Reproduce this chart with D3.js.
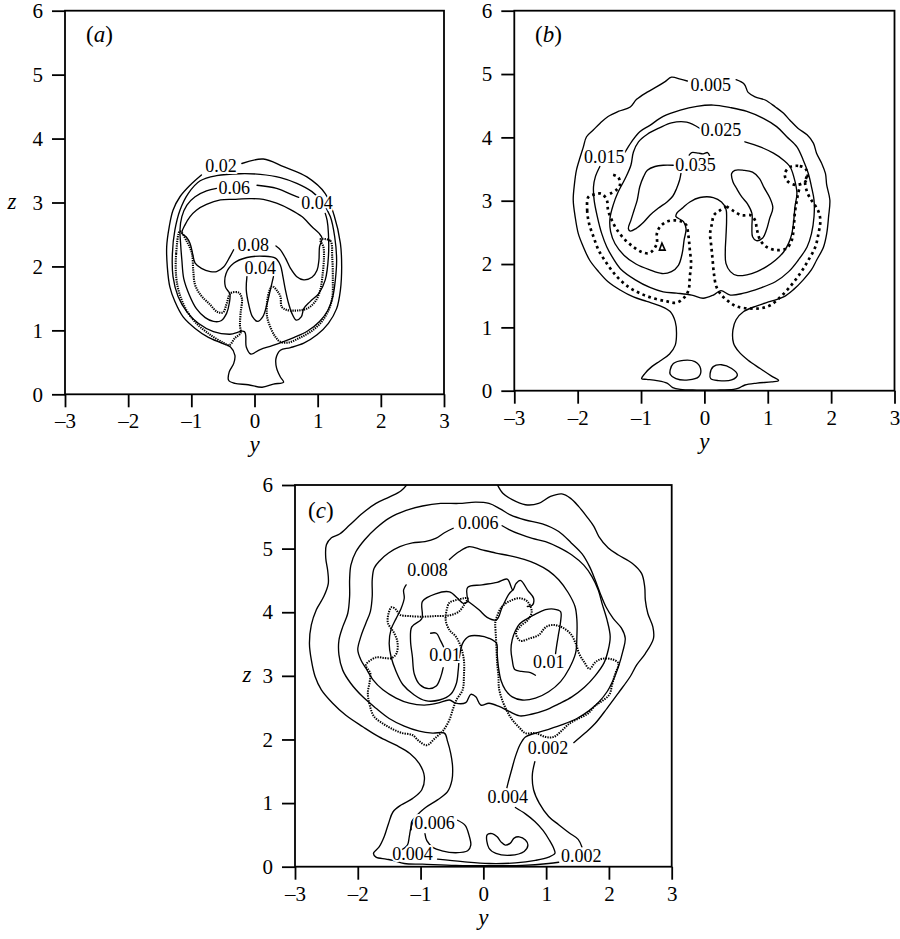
<!DOCTYPE html>
<html><head><meta charset="utf-8">
<script src="https://cdn.jsdelivr.net/npm/d3@7"></script>
<style>
body{margin:0;background:#fff}
svg{display:block}
svg text{font-family:'Liberation Serif','DejaVu Serif',serif !important;fill:#000}
</style>
</head><body>
<svg id="chart" width="900" height="939" style="font-family:'Liberation Serif','DejaVu Serif',serif"></svg>
<script>
// ---------- axis ticks ----------
const yTicks = [-3, -2, -1, 0, 1, 2, 3];
const zTicks = [0, 1, 2, 3, 4, 5, 6];

// ---------- panel (a) contours, [y, z] ----------
const a_c002 = [[-0.20,3.61],[0.14,3.68],[0.46,3.56],[0.83,3.40],[1.12,3.14],[1.26,2.80],[1.36,2.36],[1.38,1.99],[1.36,1.63],[1.30,1.34],[1.17,1.11],[0.99,0.93],[0.78,0.80],[0.57,0.73],[0.41,0.69],[0.34,0.56],[0.35,0.41],[0.41,0.27],[0.46,0.19],[0.30,0.16],[0.12,0.11],[-0.10,0.15],[-0.31,0.17],[-0.41,0.22],[-0.40,0.35],[-0.33,0.48],[-0.31,0.61],[-0.38,0.74],[-0.52,0.80],[-0.73,0.89],[-0.94,1.03],[-1.13,1.21],[-1.26,1.45],[-1.34,1.68],[-1.38,1.99],[-1.39,2.31],[-1.35,2.62],[-1.29,2.88],[-1.18,3.09],[-1.02,3.27],[-0.84,3.43]];
const a_c004 = [[-0.86,3.34],[-0.60,3.42],[-0.23,3.45],[0.09,3.44],[0.41,3.39],[0.67,3.30],[0.91,3.17],[1.07,3.01],[1.20,2.78],[1.27,2.46],[1.30,2.10],[1.28,1.79],[1.24,1.53],[1.16,1.31],[1.03,1.14],[0.84,0.99],[0.63,0.89],[0.45,0.82],[0.28,0.76],[0.09,0.70],[-0.06,0.63],[-0.13,0.74],[-0.16,0.98],[-0.39,0.94],[-0.65,0.98],[-0.89,1.11],[-1.07,1.29],[-1.21,1.53],[-1.29,1.84],[-1.30,2.20],[-1.26,2.57],[-1.18,2.88],[-1.05,3.14]];
const a_c006top = [[0.04,3.27],[0.35,3.22],[0.62,3.11],[0.70,3.08]];
const a_c006 = [[1.12,2.83],[1.15,2.72],[1.17,2.52],[1.17,2.15],[1.12,1.79],[1.02,1.58],[0.88,1.45],[0.78,1.34],[0.74,1.21],[0.66,1.16],[0.59,1.27],[0.54,1.42],[0.49,1.63],[0.45,1.84],[0.41,2.02],[0.33,2.13],[0.14,2.16],[-0.12,2.14],[-0.33,2.05],[-0.45,1.89],[-0.46,1.68],[-0.39,1.57],[-0.40,1.42],[-0.44,1.27],[-0.53,1.15],[-0.65,1.14],[-0.78,1.20],[-0.92,1.34],[-1.03,1.55],[-1.12,1.81],[-1.15,2.10],[-1.17,2.36],[-1.18,2.57],[-1.15,2.78],[-1.07,2.96],[-0.94,3.09],[-0.76,3.18],[-0.60,3.22]];
const a_c008 = [[-0.33,2.26],[-0.39,2.15],[-0.49,1.99],[-0.60,1.92],[-0.70,1.92],[-0.84,1.97],[-0.94,2.05],[-0.98,2.20],[-1.02,2.36],[-1.08,2.46],[-1.15,2.52],[-1.10,2.65],[-1.02,2.78],[-0.92,2.88],[-0.76,2.97],[-0.54,3.04],[-0.33,3.05],[-0.07,3.06],[0.14,3.05],[0.35,2.99],[0.57,2.89],[0.75,2.78],[0.91,2.62],[1.02,2.52],[1.07,2.44],[1.03,2.31],[1.02,2.10],[0.99,1.94],[0.91,1.83],[0.78,1.79],[0.67,1.84],[0.57,1.97],[0.49,2.13],[0.41,2.26],[0.34,2.32]];
const a_c004in = [[-0.12,1.84],[-0.13,1.63],[-0.09,1.40],[-0.03,1.21],[0.05,1.14],[0.13,1.21],[0.20,1.42],[0.25,1.63],[0.30,1.84]];
const a_dotL = [[-1.18,2.55],[-1.24,2.20],[-1.24,1.84],[-1.19,1.58],[-1.08,1.32],[-0.92,1.11],[-0.70,0.93],[-0.50,0.81],[-0.40,0.77],[-0.31,0.88],[-0.22,0.96],[-0.23,1.08],[-0.22,1.27],[-0.20,1.50],[-0.25,1.59],[-0.38,1.58],[-0.44,1.42],[-0.50,1.28],[-0.59,1.29],[-0.71,1.41],[-0.85,1.55],[-0.94,1.71],[-0.97,1.94],[-0.99,2.20],[-1.07,2.39]];
const a_dotR = [[1.04,2.42],[1.20,2.40],[1.23,2.15],[1.24,1.79],[1.23,1.50],[1.16,1.29],[1.05,1.12],[0.89,0.98],[0.71,0.88],[0.54,0.81],[0.41,0.82],[0.33,0.90],[0.26,1.03],[0.20,1.21],[0.20,1.45],[0.24,1.63],[0.28,1.69],[0.35,1.63],[0.41,1.53],[0.43,1.37],[0.51,1.32],[0.67,1.31],[0.83,1.34],[0.96,1.45],[1.04,1.63],[1.08,1.89],[1.10,2.15],[1.09,2.31]];
const a_labels = [["0.02",-0.53,3.57],["0.06",-0.32,3.23],["0.04",0.99,2.99],["0.08",-0.02,2.34],["0.04",0.09,1.98]];

// ---------- panel (b) contours ----------
const b_c0005 = [[0.50,4.91],[0.63,4.84],[0.69,4.71],[0.80,4.64],[0.96,4.59],[1.12,4.48],[1.25,4.38],[1.35,4.27],[1.48,4.14],[1.62,4.04],[1.72,3.91],[1.77,3.75],[1.85,3.59],[1.91,3.43],[1.93,3.25],[1.98,3.01],[1.96,2.75],[1.93,2.48],[1.88,2.27],[1.77,2.06],[1.69,1.91],[1.56,1.75],[1.41,1.60],[1.25,1.48],[1.04,1.41],[0.83,1.34],[0.62,1.25],[0.50,1.12],[0.45,0.96],[0.46,0.75],[0.54,0.62],[0.69,0.48],[0.88,0.35],[1.06,0.23],[1.17,0.16],[1.06,0.14],[0.83,0.12],[0.64,0.09],[0.54,0.04],[0.46,0.02],[0.19,0.01],[-0.12,0.01],[-0.38,0.02],[-0.50,0.05],[-0.59,0.12],[-0.75,0.16],[-0.91,0.18],[-0.99,0.19],[-0.94,0.27],[-0.83,0.38],[-0.70,0.47],[-0.55,0.58],[-0.46,0.72],[-0.44,0.91],[-0.46,1.09],[-0.54,1.25],[-0.70,1.34],[-0.91,1.41],[-1.12,1.48],[-1.33,1.59],[-1.52,1.72],[-1.67,1.88],[-1.81,2.06],[-1.91,2.27],[-1.99,2.48],[-2.04,2.75],[-2.07,3.01],[-2.05,3.27],[-2.02,3.48],[-1.96,3.69],[-1.91,3.85],[-1.86,4.01],[-1.75,4.12],[-1.65,4.22],[-1.52,4.33],[-1.36,4.41],[-1.17,4.48],[-1.07,4.60],[-0.91,4.71],[-0.75,4.80],[-0.62,4.88],[-0.52,4.95],[-0.38,4.92],[-0.27,4.89]];
const b_ovalL = [[-0.54,0.33],[-0.49,0.43],[-0.33,0.48],[-0.15,0.46],[-0.06,0.35],[-0.09,0.22],[-0.25,0.17],[-0.45,0.19],[-0.54,0.26]];
const b_ovalR = [[0.09,0.27],[0.14,0.38],[0.27,0.41],[0.43,0.35],[0.52,0.25],[0.43,0.17],[0.22,0.16],[0.10,0.19]];
const b_c0015 = [[-1.25,3.77],[-1.15,3.93],[-1.02,4.09],[-0.86,4.19],[-0.65,4.33],[-0.38,4.43],[-0.12,4.49],[0.14,4.51],[0.41,4.47],[0.67,4.41],[0.93,4.30],[1.14,4.17],[1.30,4.01],[1.46,3.85],[1.56,3.64],[1.64,3.43],[1.69,3.22],[1.73,3.01],[1.73,2.75],[1.69,2.48],[1.62,2.27],[1.48,2.06],[1.33,1.88],[1.12,1.72],[0.88,1.62],[0.62,1.54],[0.41,1.51],[0.26,1.58],[0.14,1.51],[-0.02,1.46],[-0.20,1.51],[-0.44,1.54],[-0.65,1.56],[-0.86,1.63],[-1.09,1.75],[-1.31,1.91],[-1.44,2.09],[-1.54,2.27],[-1.62,2.48],[-1.69,2.75],[-1.74,3.01],[-1.75,3.22],[-1.72,3.38],[-1.65,3.54]];
const b_c0025 = [[-0.07,4.14],[-0.28,4.24],[-0.52,4.23],[-0.71,4.15],[-0.90,4.05],[-1.04,3.93],[-1.12,3.77],[-1.16,3.56],[-1.25,3.35],[-1.36,3.14],[-1.44,2.93],[-1.49,2.72],[-1.48,2.51],[-1.41,2.32],[-1.27,2.14],[-1.08,2.00],[-0.87,1.91],[-0.67,1.85],[-0.52,1.88],[-0.41,1.98],[-0.35,2.17],[-0.32,2.38],[-0.29,2.56],[-0.33,2.67],[-0.45,2.75],[-0.43,2.81],[-0.34,2.89],[-0.23,2.98],[-0.07,3.05],[0.14,3.05],[0.27,2.98],[0.34,2.87],[0.35,2.69],[0.34,2.43],[0.33,2.22],[0.34,2.01],[0.41,1.88],[0.51,1.82],[0.67,1.83],[0.83,1.88],[0.98,1.96],[1.12,2.06],[1.25,2.19],[1.33,2.33],[1.38,2.48],[1.41,2.69],[1.43,2.91],[1.46,3.12],[1.41,3.38],[1.35,3.54],[1.25,3.64],[1.09,3.75],[0.88,3.85],[0.64,3.93]];
const b_c0035L = [[-0.49,3.56],[-0.65,3.56],[-0.78,3.54],[-0.90,3.48],[-0.96,3.38],[-1.02,3.22],[-1.06,3.01],[-1.11,2.85],[-1.16,2.69],[-1.20,2.56],[-1.17,2.52],[-1.08,2.56],[-0.96,2.66],[-0.86,2.77],[-0.73,2.88],[-0.59,2.98],[-0.50,3.07],[-0.44,3.19],[-0.39,3.33],[-0.37,3.43]];
const b_c0035T = [[-0.24,3.72],[-0.20,3.76],[-0.09,3.75],[-0.02,3.74],[0.05,3.76],[0.09,3.69]];
const b_c0035R = [[0.43,3.43],[0.45,3.30],[0.51,3.19],[0.59,3.06],[0.68,2.95],[0.75,2.80],[0.75,2.59],[0.76,2.43],[0.82,2.37],[0.92,2.41],[0.98,2.54],[1.03,2.72],[1.08,2.89],[1.03,3.05],[0.94,3.21],[0.87,3.35],[0.76,3.45],[0.62,3.48],[0.48,3.48]];
const b_dotL = [[-1.83,3.06],[-1.85,2.85],[-1.82,2.64],[-1.75,2.43],[-1.67,2.22],[-1.54,2.01],[-1.38,1.80],[-1.20,1.64],[-1.02,1.54],[-0.81,1.46],[-0.59,1.41],[-0.44,1.39],[-0.32,1.47],[-0.25,1.59],[-0.23,1.80],[-0.21,2.01],[-0.23,2.22],[-0.25,2.43],[-0.29,2.62],[-0.36,2.67],[-0.46,2.69],[-0.59,2.67],[-0.70,2.59],[-0.75,2.48],[-0.75,2.33],[-0.81,2.22],[-0.88,2.17],[-0.99,2.19],[-1.12,2.27],[-1.25,2.38],[-1.38,2.54],[-1.46,2.69],[-1.52,2.85],[-1.54,3.01],[-1.62,3.11],[-1.73,3.10]];
const b_dotW = [[-1.44,3.41],[-1.36,3.37],[-1.33,3.26],[-1.39,3.17],[-1.49,3.11]];
const b_tri = [[-0.71,2.22],[-0.67,2.33],[-0.62,2.22]];
const b_dotR = [[0.35,2.91],[0.25,2.85],[0.15,2.77],[0.12,2.64],[0.09,2.48],[0.11,2.27],[0.13,2.06],[0.15,1.85],[0.19,1.64],[0.27,1.51],[0.38,1.41],[0.51,1.33],[0.69,1.30],[0.88,1.30],[1.04,1.35],[1.19,1.47],[1.35,1.64],[1.51,1.85],[1.64,2.06],[1.75,2.27],[1.80,2.48],[1.83,2.69],[1.80,2.83],[1.75,2.92],[1.68,3.02],[1.62,3.14],[1.59,3.30],[1.63,3.41]];
const b_dotLoop = [[1.59,3.51],[1.48,3.55],[1.35,3.53],[1.27,3.43],[1.30,3.32],[1.43,3.25],[1.59,3.30],[1.63,3.41]];
const b_dotRi = [[0.35,2.91],[0.47,2.83],[0.59,2.77],[0.73,2.77],[0.80,2.69],[0.83,2.54],[0.88,2.38],[0.98,2.27],[1.14,2.22],[1.30,2.25],[1.38,2.38],[1.41,2.59],[1.43,2.83],[1.46,3.01],[1.48,3.12],[1.51,3.23]];
const b_labels = [["0.005",0.10,4.83],["0.025",0.26,4.11],["0.015",-1.58,3.69],["0.035",-0.14,3.56]];

// ---------- panel (c) contours ----------
const c_c002L = [[-1.18,6.05],[-1.31,5.91],[-1.50,5.81],[-1.71,5.71],[-1.92,5.56],[-2.13,5.37],[-2.29,5.23],[-2.42,5.17],[-2.50,5.06],[-2.51,4.85],[-2.48,4.66],[-2.47,4.45],[-2.54,4.25],[-2.66,4.04],[-2.74,3.80],[-2.77,3.51],[-2.74,3.25],[-2.68,2.99],[-2.58,2.78],[-2.40,2.57],[-2.19,2.38],[-1.92,2.20],[-1.66,2.04],[-1.39,1.91],[-1.17,1.78],[-1.02,1.62],[-0.94,1.42],[-0.98,1.21],[-1.13,1.07],[-1.31,0.97],[-1.44,0.86],[-1.51,0.68],[-1.58,0.47],[-1.66,0.31],[-1.75,0.21],[-1.71,0.15],[-1.55,0.12],[-1.44,0.10],[-1.26,0.05],[-0.97,0.04],[-0.44,0.02],[0.09,0.015],[0.62,0.02],[1.04,0.05],[1.20,0.07]];
const c_c002R = [[0.20,6.05],[0.31,5.87],[0.46,5.77],[0.67,5.69],[0.88,5.71],[1.07,5.82],[1.25,5.86],[1.39,5.79],[1.52,5.66],[1.65,5.50],[1.76,5.35],[1.84,5.19],[1.99,5.01],[2.15,4.90],[2.37,4.77],[2.52,4.61],[2.57,4.40],[2.58,4.19],[2.62,3.98],[2.70,3.77],[2.71,3.59],[2.58,3.35],[2.44,3.17],[2.34,2.99],[2.15,2.73],[1.97,2.49],[1.78,2.25],[1.62,2.10],[1.44,1.95]];
const c_c002Rl = [[0.82,1.65],[0.78,1.44],[0.80,1.21],[0.89,1.00],[1.04,0.79],[1.20,0.66],[1.37,0.53],[1.51,0.43],[1.57,0.31]];
const c_c004 = [[-1.31,0.26],[-1.21,0.34],[-1.18,0.47],[-1.15,0.63],[-1.07,0.79],[-0.92,0.93],[-0.73,1.05],[-0.57,1.18],[-0.50,1.36],[-0.49,1.57],[-0.52,1.78],[-0.57,1.97],[-0.62,2.10],[-0.81,2.10],[-1.02,2.13],[-1.26,2.21],[-1.50,2.33],[-1.71,2.49],[-1.92,2.67],[-2.11,2.88],[-2.24,3.09],[-2.30,3.33],[-2.30,3.56],[-2.24,3.77],[-2.16,3.98],[-2.13,4.25],[-2.13,4.51],[-2.11,4.74],[-2.03,4.95],[-1.89,5.14],[-1.71,5.32],[-1.50,5.48],[-1.23,5.60],[-0.97,5.67],[-0.68,5.71],[-0.39,5.71],[-0.12,5.73],[0.09,5.71],[0.26,5.63],[0.43,5.53],[0.67,5.45],[0.94,5.39],[1.20,5.27],[1.40,5.09],[1.57,4.92],[1.69,4.72],[1.78,4.51],[1.86,4.30],[1.95,4.09],[2.07,3.90],[2.20,3.75],[2.26,3.59],[2.22,3.38],[2.15,3.14],[2.07,2.94],[1.97,2.75],[1.84,2.59],[1.68,2.45],[1.49,2.33],[1.28,2.24],[1.04,2.16],[0.83,2.10],[0.67,2.04],[0.58,1.91],[0.51,1.73],[0.45,1.52],[0.40,1.34],[0.37,1.22]];
const c_c004b = [[0.51,0.93],[0.67,0.83],[0.82,0.71],[0.95,0.57],[1.05,0.42],[1.12,0.29],[1.14,0.21],[1.04,0.15],[0.83,0.10],[0.51,0.06],[0.09,0.05],[-0.33,0.08],[-0.73,0.12]];
const c_c006 = [[-0.48,5.32],[-0.62,5.25],[-0.76,5.16],[-0.93,5.11],[-1.13,5.09],[-1.33,5.03],[-1.51,4.93],[-1.65,4.81],[-1.74,4.69],[-1.77,4.51],[-1.77,4.25],[-1.80,4.01],[-1.87,3.83],[-1.95,3.62],[-2.00,3.41],[-1.95,3.25],[-1.87,3.12],[-1.76,2.94],[-1.60,2.78],[-1.39,2.65],[-1.18,2.57],[-0.94,2.54],[-0.73,2.57],[-0.54,2.62],[-0.44,2.57],[-0.28,2.58],[-0.20,2.71],[-0.12,2.67],[-0.04,2.54],[0.09,2.57],[0.25,2.52],[0.41,2.44],[0.58,2.37],[0.78,2.40],[0.99,2.46],[1.20,2.56],[1.41,2.67],[1.61,2.82],[1.78,3.00],[1.92,3.20],[1.99,3.41],[2.02,3.62],[1.97,3.88],[1.89,4.14],[1.83,4.35],[1.73,4.56],[1.60,4.74],[1.41,4.90],[1.20,5.02],[0.99,5.11],[0.78,5.16],[0.57,5.23],[0.41,5.30],[0.30,5.36]];
const c_c008 = [[-0.54,4.83],[-0.39,4.95],[-0.23,5.03],[-0.02,4.98],[0.20,4.93],[0.41,4.89],[0.65,4.83],[0.84,4.76],[1.04,4.65],[1.20,4.51],[1.35,4.31],[1.46,4.09],[1.49,3.88],[1.49,3.62],[1.47,3.36],[1.37,3.12],[1.23,2.91],[1.04,2.75],[0.83,2.65],[0.62,2.62],[0.46,2.67],[0.35,2.78],[0.28,2.93],[0.24,3.14],[0.22,3.35],[0.21,3.51],[0.09,3.59],[-0.07,3.63],[-0.23,3.62],[-0.33,3.51],[-0.38,3.30],[-0.40,3.09],[-0.43,2.88],[-0.52,2.71],[-0.70,2.62],[-0.92,2.61],[-1.10,2.70],[-1.28,2.86],[-1.39,3.07],[-1.47,3.30],[-1.50,3.51],[-1.47,3.73],[-1.39,3.90],[-1.31,4.06],[-1.26,4.22],[-1.27,4.35],[-1.23,4.43]];
const c_c01hook = [[-0.84,3.67],[-0.75,3.67],[-0.68,3.55],[-0.63,3.45]];
const c_c01L = [[-0.64,3.13],[-0.68,2.98],[-0.75,2.84],[-0.87,2.80],[-1.01,2.86],[-1.10,3.03],[-1.13,3.30],[-1.16,3.56],[-1.14,3.77],[-0.98,3.90],[-0.97,4.17],[-0.76,4.29],[-0.54,4.32],[-0.41,4.22],[-0.32,4.14],[-0.24,4.17]];
const c_c01R = [[0.83,3.01],[0.75,3.05],[0.61,3.07],[0.50,3.10],[0.46,3.25],[0.44,3.41],[0.46,3.57],[0.51,3.71],[0.58,3.82],[0.70,3.90],[0.83,3.97],[0.99,4.04],[1.12,4.05],[1.23,4.01],[1.23,3.85],[1.20,3.67],[1.17,3.49],[1.15,3.35]];
const c_cenA = [[-0.24,4.17],[-0.25,4.39],[-0.02,4.43],[0.22,4.47],[0.38,4.52],[0.47,4.35],[0.52,4.45],[0.59,4.50],[0.71,4.34],[0.80,4.22],[0.78,4.11],[0.70,4.09]];
const c_cenB = [[-0.24,4.17],[-0.07,4.04],[0.06,3.92],[0.21,3.88],[0.30,4.08],[0.41,4.29],[0.47,4.35]];
const c_c006b = [[-0.41,0.73],[-0.29,0.65],[-0.23,0.50],[-0.20,0.34],[-0.25,0.25],[-0.44,0.22],[-0.66,0.25],[-0.80,0.30],[-0.90,0.41],[-0.93,0.52]];
const c_brk = [[-1.15,0.58],[-1.14,0.71],[-1.08,0.78]];
const c_blob = [[0.06,0.50],[0.09,0.29],[0.20,0.21],[0.43,0.18],[0.65,0.24],[0.71,0.34],[0.67,0.42],[0.57,0.47],[0.49,0.45],[0.43,0.37],[0.35,0.34],[0.28,0.39],[0.22,0.47],[0.14,0.52]];
const c_dotL = [[-0.25,4.22],[-0.31,4.22],[-0.44,4.19],[-0.54,4.15],[-0.57,4.09],[-0.60,3.88],[-0.54,3.72],[-0.44,3.62],[-0.36,3.46],[-0.31,3.25],[-0.31,2.99],[-0.33,2.78],[-0.43,2.62],[-0.48,2.49],[-0.54,2.31],[-0.64,2.14],[-0.77,2.02],[-0.90,1.91],[-1.02,1.97],[-1.13,2.07],[-1.29,2.10],[-1.44,2.16],[-1.60,2.25],[-1.74,2.36],[-1.81,2.54],[-1.84,2.73],[-1.81,2.91],[-1.80,3.04],[-1.87,3.17],[-1.71,3.29],[-1.58,3.28],[-1.46,3.28],[-1.38,3.36],[-1.37,3.54],[-1.43,3.69],[-1.52,3.83],[-1.51,3.98],[-1.46,4.08],[-1.39,4.04],[-1.33,3.96],[-1.18,3.94],[-0.97,3.93],[-0.76,3.94],[-0.54,3.95],[-0.39,4.01],[-0.31,4.11]];
const c_dotR = [[0.20,3.88],[0.29,4.08],[0.43,4.18],[0.58,4.22],[0.70,4.17],[0.77,4.01],[0.71,3.88],[0.59,3.78],[0.52,3.67],[0.59,3.55],[0.74,3.59],[0.88,3.64],[1.00,3.77],[1.12,3.80],[1.26,3.76],[1.39,3.66],[1.47,3.51],[1.53,3.34],[1.61,3.21],[1.69,3.11],[1.79,3.22],[1.90,3.27],[2.05,3.26],[2.15,3.20],[2.10,3.03],[2.05,2.86],[2.01,2.71],[1.90,2.61],[1.78,2.53],[1.67,2.41],[1.52,2.33],[1.37,2.25],[1.25,2.14],[1.12,2.04],[0.99,2.04],[0.83,2.10],[0.67,2.10],[0.57,2.19],[0.46,2.31],[0.37,2.46],[0.30,2.62],[0.25,2.80],[0.24,3.00],[0.22,3.20],[0.21,3.41],[0.20,3.62],[0.19,3.82]];
const c_labels = [["0.006",-0.08,5.41],["0.008",-0.89,4.67],["0.01",-0.61,3.32],["0.01",1.04,3.21],["0.002",1.03,1.86],["0.004",0.39,1.10],["0.006",-0.78,0.69],["0.004",-1.13,0.20],["0.002",1.56,0.17]];

// ---------- layout ----------
const SERIF = "'Liberation Serif','DejaVu Serif',serif";
const panels = [
  {tag:"a", box:{x0:65, x1:444, yb:394.3, yt:10.7}, zTitleX:12, tagPos:[86,42],
   solid:[[a_c002,false],[a_c004,true],[a_c006top,false],[a_c006,false],[a_c008,false],[a_c004in,false]],
   dotted:[[a_dotL,true],[a_dotR,true]], labels:a_labels,
   dot:{w:2.1, dash:"1.3,1.0"}},
  {tag:"b", box:{x0:514.3, x1:894.5, yb:390.7, yt:10.7}, zTitleX:null, tagPos:[535,42],
   solid:[[b_c0005,false],[b_ovalL,true],[b_ovalR,true],[b_c0015,false],[b_c0025,false],[b_c0035L,false],[b_c0035T,false],[b_c0035R,true]],
   dotted:[[b_dotL,true],[b_dotW,false],[b_tri,true],[b_dotR,false],[b_dotLoop,true],[b_dotRi,false]], labels:b_labels,
   dot:{w:2.7, dash:"2.7,3.5"}},
  {tag:"c", box:{x0:295, x1:671.7, yb:866.7, yt:485}, zTitleX:247, tagPos:[308,518],
   solid:[[c_c002L,false],[c_c002R,false],[c_c002Rl,false],[c_c004,false],[c_c004b,false],[c_c006,false],[c_c008,false],[c_c01hook,false],[c_c01L,false],[c_c01R,false],[c_cenA,false],[c_cenB,false],[c_c006b,false],[c_brk,false],[c_blob,true]],
   dotted:[[c_dotL,true],[c_dotR,true]], labels:c_labels,
   dot:{w:2.0, dash:"1.4,1.1"}}
];

const svg = d3.select("#chart");
const fmt = d => d < 0 ? "\u2013" + (-d) : String(d);

panels.forEach((p, i) => {
  const b = p.box;
  const xs = d3.scaleLinear().domain([-3, 3]).range([b.x0, b.x1]);
  const zs = d3.scaleLinear().domain([0, 6]).range([b.yb, b.yt]);
  const g = svg.append("g").style("font-family", SERIF);

  const clipId = "clip" + i;
  svg.append("clipPath").attr("id", clipId).append("rect")
    .attr("x", b.x0).attr("y", b.yt).attr("width", b.x1 - b.x0).attr("height", b.yb - b.yt);

  const plot = g.append("g").attr("clip-path", `url(#${clipId})`);
  const lineOpen = d3.line().x(d => xs(d[0])).y(d => zs(d[1])).curve(d3.curveCatmullRom.alpha(0.5));
  const lineClosed = d3.line().x(d => xs(d[0])).y(d => zs(d[1])).curve(d3.curveCatmullRomClosed.alpha(0.5));
  const lineTri = d3.line().x(d => xs(d[0])).y(d => zs(d[1])).curve(d3.curveLinearClosed);

  p.solid.forEach(([pts, closed]) => {
    plot.append("path").attr("d", (closed ? lineClosed : lineOpen)(pts))
      .attr("fill", "none").attr("stroke", "#000").attr("stroke-width", 1.35)
      .attr("stroke-linejoin", "round").attr("stroke-linecap", "round");
  });
  p.dotted.forEach(([pts, closed]) => {
    const isTri = pts === b_tri;
    const gen = isTri ? lineTri : (closed ? lineClosed : lineOpen);
    plot.append("path").attr("d", gen(pts))
      .attr("fill", "none").attr("stroke", "#000").attr("stroke-width", isTri ? 1.6 : p.dot.w)
      .attr("stroke-dasharray", isTri ? null : p.dot.dash);
  });

  // contour labels with white halo
  g.selectAll("text.cl").data(p.labels).join("text").attr("class", "cl")
    .attr("x", d => xs(d[1])).attr("y", d => zs(d[2]))
    .attr("text-anchor", "middle").attr("dominant-baseline", "central")
    .style("font-family", SERIF).style("font-size", "18px")
    .attr("stroke", "#fff").attr("stroke-width", 4).attr("paint-order", "stroke")
    .attr("stroke-linejoin", "round")
    .text(d => d[0]);

  // frame
  g.append("rect").attr("x", b.x0).attr("y", b.yt).attr("width", b.x1 - b.x0).attr("height", b.yb - b.yt)
    .attr("fill", "none").attr("stroke", "#000").attr("stroke-width", 1.8);

  // axes
  const ax = g.append("g").attr("transform", `translate(0,${b.yb})`)
    .call(d3.axisBottom(xs).tickValues(yTicks).tickFormat(fmt).tickSize(13).tickSizeOuter(0).tickPadding(6));
  const az = g.append("g").attr("transform", `translate(${b.x0},0)`)
    .call(d3.axisLeft(zs).tickValues(zTicks).tickFormat(fmt).tickSize(13).tickSizeOuter(0).tickPadding(9));
  [ax, az].forEach(a => {
    a.attr("font-family", null).attr("font-size", null);
    a.select(".domain").remove();
    a.selectAll("line").attr("stroke-width", 1.8);
    a.selectAll("text").style("font-family", SERIF).style("font-size", "21px").attr("fill", "#000");
  });

  // axis titles
  g.append("text").attr("x", xs(0)).attr("y", b.yb + 58).attr("text-anchor", "middle")
    .style("font-family", SERIF).style("font-size", "23px").style("font-style", "italic").text("y");
  if (p.zTitleX !== null) {
    g.append("text").attr("x", p.zTitleX).attr("y", zs(3) + 6).attr("text-anchor", "middle")
      .style("font-family", SERIF).style("font-size", "23px").style("font-style", "italic").text("z");
  }
  // panel tag
  const t = g.append("text").attr("x", p.tagPos[0]).attr("y", p.tagPos[1])
    .style("font-family", SERIF).style("font-size", "23px");
  t.append("tspan").text("(");
  t.append("tspan").style("font-style", "italic").text(p.tag);
  t.append("tspan").text(")");
});
</script>
</body></html>
